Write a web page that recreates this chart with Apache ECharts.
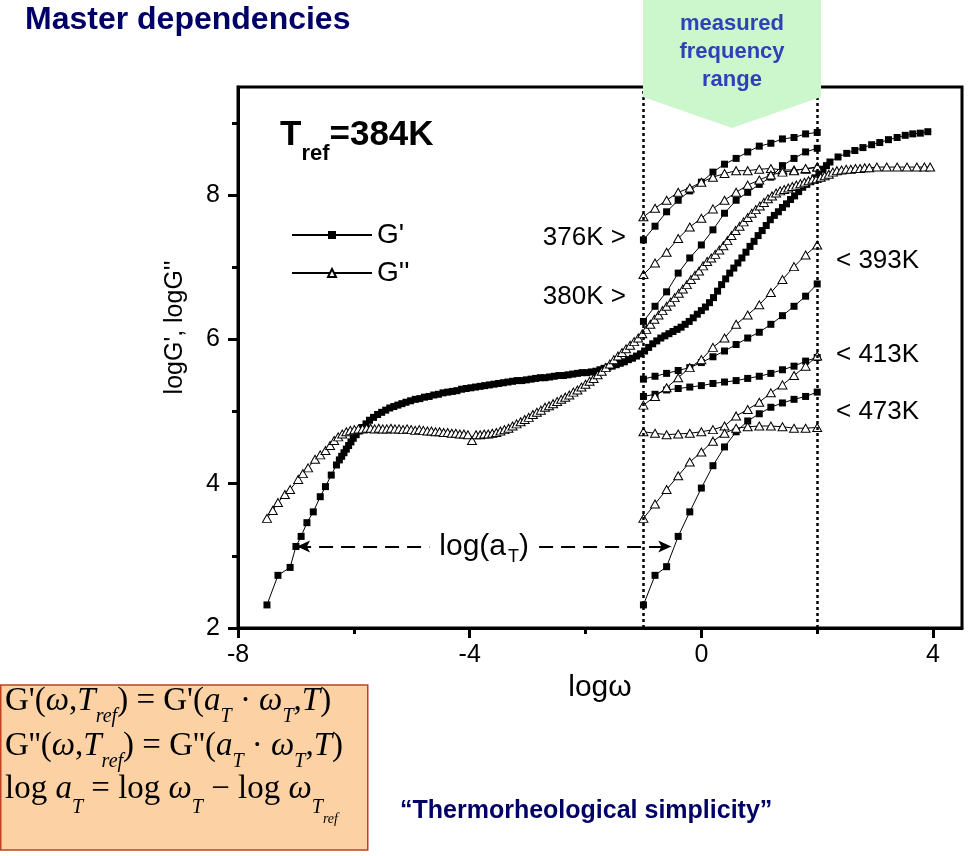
<!DOCTYPE html>
<html><head><meta charset="utf-8">
<script src="https://cdn.jsdelivr.net/npm/echarts@6/dist/echarts.min.js"></script>
<style>html,body{margin:0;padding:0;background:#fff}#chart{width:968px;height:856px}</style>
</head><body><div id="chart"></div>
<script>
// ---- master curve (reduced to T_ref = 384 K) ----
const masterLogW_Gp = [-7.50,-7.31,-7.10,-7.00,-6.91,-6.81,-6.70,-6.58,-6.49,-6.39,
 -6.30,-6.25,-6.21,-6.17,-6.13,-6.09,-6.05,-6.01,-5.96,-5.91,
 -5.85,-5.79,-5.73,-5.66,-5.59,-5.52,-5.45,-5.38,-5.31,-5.24,
 -5.17,-5.10,-5.02,-4.94,-4.86,-4.78,-4.70,-4.62,-4.54,-4.46,
 -4.38,-4.30,-4.22,-4.14,-4.06,-3.98,-3.90,-3.82,-3.74,-3.66,
 -3.58,-3.50,-3.42,-3.34,-3.26,-3.18,-3.10,-3.02,-2.94,-2.86,
 -2.78,-2.70,-2.62,-2.54,-2.46,-2.38,-2.30,-2.22,-2.14,-2.06,
 -1.98,-1.90,-1.82,-1.75,-1.68,-1.61,-1.54,-1.47,-1.40,-1.33,
 -1.26,-1.19,-1.12,-1.05,-0.98,-0.91,-0.84,-0.77,-0.70,-0.63,
 -0.56,-0.49,-0.42,-0.35,-0.28,-0.21,-0.14,-0.07,0.00,0.07,
 0.14,0.21,0.28,0.35,0.42,0.49,0.56,0.63,0.70,0.77,
 0.84,0.91,0.98,1.05,1.12,1.19,1.26,1.33,1.40,1.47,
 1.54,1.61,1.68,1.75,1.82,1.89,1.96,2.03,2.10,2.16,
 2.22,2.36,2.51,2.65,2.79,2.94,3.08,3.23,3.38,3.52,
 3.65,3.78,3.91];
const masterGp = [2.32,2.73,2.84,3.13,3.27,3.46,3.61,3.82,3.96,4.12,
 4.26,4.33,4.38,4.43,4.48,4.53,4.58,4.63,4.68,4.73,
 4.78,4.83,4.88,4.92,4.96,4.99,5.02,5.05,5.07,5.09,
 5.11,5.13,5.15,5.17,5.18,5.20,5.21,5.23,5.24,5.26,
 5.27,5.28,5.29,5.31,5.32,5.33,5.34,5.35,5.36,5.37,
 5.38,5.39,5.40,5.41,5.42,5.43,5.43,5.44,5.45,5.46,
 5.47,5.47,5.48,5.49,5.50,5.50,5.51,5.52,5.53,5.54,
 5.54,5.55,5.56,5.58,5.60,5.62,5.63,5.65,5.67,5.69,
 5.72,5.74,5.77,5.80,5.84,5.89,5.94,5.98,6.02,6.05,
 6.08,6.11,6.14,6.17,6.21,6.25,6.30,6.35,6.40,6.45,
 6.51,6.58,6.67,6.76,6.84,6.92,6.99,7.06,7.13,7.21,
 7.29,7.36,7.44,7.51,7.58,7.66,7.72,7.77,7.83,7.88,
 7.94,7.99,8.05,8.11,8.15,8.19,8.24,8.30,8.36,8.41,
 8.46,8.53,8.58,8.62,8.66,8.70,8.73,8.77,8.80,8.83,
 8.85,8.86,8.88];
const masterLogW_Gpp = [-7.50,-7.40,-7.31,-7.19,-7.10,-6.96,-6.88,-6.79,-6.67,-6.58,
 -6.49,-6.41,-6.34,-6.27,-6.20,-6.13,-6.06,-5.99,-5.92,-5.85,
 -5.78,-5.71,-5.64,-5.57,-5.50,-5.43,-5.36,-5.29,-5.22,-5.15,
 -5.08,-5.01,-4.94,-4.87,-4.80,-4.73,-4.66,-4.59,-4.52,-4.45,
 -4.38,-4.31,-4.24,-4.17,-4.10,-4.03,-3.96,-3.89,-3.82,-3.75,
 -3.68,-3.61,-3.54,-3.47,-3.40,-3.33,-3.26,-3.19,-3.12,-3.05,
 -2.98,-2.91,-2.84,-2.77,-2.70,-2.63,-2.56,-2.49,-2.42,-2.35,
 -2.28,-2.21,-2.14,-2.07,-2.00,-1.93,-1.86,-1.79,-1.72,-1.65,
 -1.58,-1.51,-1.44,-1.37,-1.30,-1.23,-1.16,-1.09,-1.02,-0.95,
 -0.88,-0.81,-0.74,-0.67,-0.60,-0.53,-0.46,-0.39,-0.32,-0.25,
 -0.18,-0.11,-0.04,0.03,0.10,0.17,0.24,0.31,0.38,0.45,
 0.52,0.59,0.66,0.73,0.80,0.87,0.94,1.01,1.08,1.15,
 1.22,1.29,1.36,1.43,1.50,1.57,1.64,1.71,1.78,1.85,
 1.92,1.99,2.06,2.13,2.20,2.27,2.34,2.42,2.50,2.58,
 2.66,2.74,2.82,2.90,3.03,3.20,3.38,3.55,3.72,3.85,
 3.95];
const masterGpp = [3.52,3.63,3.74,3.85,3.92,4.06,4.14,4.22,4.34,4.40,
 4.46,4.53,4.60,4.65,4.69,4.72,4.74,4.75,4.76,4.76,
 4.77,4.77,4.76,4.77,4.76,4.76,4.77,4.76,4.76,4.75,
 4.76,4.75,4.74,4.75,4.74,4.73,4.73,4.72,4.72,4.71,
 4.71,4.70,4.70,4.69,4.69,4.68,4.60,4.68,4.68,4.69,
 4.69,4.70,4.71,4.73,4.75,4.77,4.80,4.83,4.86,4.89,
 4.92,4.96,4.99,5.02,5.06,5.08,5.11,5.14,5.17,5.20,
 5.23,5.27,5.30,5.34,5.38,5.42,5.46,5.51,5.56,5.61,
 5.66,5.72,5.77,5.82,5.87,5.92,5.97,6.02,6.08,6.14,
 6.21,6.28,6.34,6.40,6.46,6.52,6.58,6.64,6.70,6.76,
 6.83,6.89,6.95,7.02,7.08,7.13,7.18,7.24,7.30,7.37,
 7.44,7.51,7.57,7.63,7.69,7.75,7.80,7.85,7.90,7.95,
 7.99,8.03,8.06,8.08,8.10,8.12,8.14,8.16,8.18,8.20,
 8.22,8.23,8.25,8.27,8.29,8.32,8.34,8.35,8.36,8.36,
 8.37,8.37,8.38,8.38,8.39,8.39,8.39,8.39,8.39,8.39,
 8.39];

// ---- measured frequency window (unshifted data at each temperature) ----
const measuredLogW = [-1.0,-0.8,-0.6,-0.4,-0.2,0.0,0.2,0.4,0.6,0.8,1.0,1.2,1.4,1.6,1.8,2.0];
const Gp_376K  = [7.38,7.57,7.77,7.93,8.06,8.18,8.32,8.43,8.51,8.60,8.68,8.72,8.78,8.80,8.85,8.87];
const Gpp_376K = [7.70,7.82,7.93,8.04,8.10,8.18,8.25,8.30,8.34,8.34,8.36,8.37,8.35,8.35,8.36,8.39];
const Gp_380K  = [6.25,6.46,6.66,6.92,7.13,7.31,7.52,7.75,7.93,8.04,8.15,8.25,8.41,8.51,8.60,8.65];
const Gpp_380K = [6.90,7.06,7.21,7.40,7.56,7.68,7.81,7.93,8.04,8.14,8.21,8.28,8.32,8.34,8.37,8.39];
const Gp_393K  = [5.45,5.49,5.53,5.57,5.61,5.68,5.76,5.84,5.93,6.02,6.10,6.21,6.33,6.46,6.60,6.77];
const Gpp_393K = [5.09,5.21,5.33,5.47,5.61,5.72,5.89,6.02,6.21,6.34,6.48,6.65,6.83,7.01,7.17,7.31];
const Gp_413K  = [5.21,5.24,5.30,5.32,5.34,5.36,5.39,5.41,5.43,5.46,5.49,5.53,5.58,5.63,5.70,5.75];
const Gpp_413K = [4.72,4.70,4.68,4.69,4.70,4.72,4.75,4.80,4.94,5.03,5.13,5.26,5.37,5.50,5.63,5.77];
const Gp_473K  = [2.32,2.73,2.85,3.27,3.61,3.94,4.25,4.51,4.72,4.87,4.97,5.06,5.12,5.17,5.21,5.27];
const Gpp_473K = [3.52,3.72,3.92,4.11,4.30,4.44,4.59,4.70,4.77,4.79,4.80,4.80,4.79,4.77,4.77,4.78];

// ---- window limits, shift arrow ----
const windowLimits = [-1, 2];
const shiftArrow = {from: -6.98, to: -0.52, level: 3.13};

const xTicks = [-8, -4, 0, 4];
const yTicks = [2, 4, 6, 8];

const SANS = "'Liberation Sans', Arial, Helvetica, sans-serif";
const SERIF = "'Liberation Serif', 'Times New Roman', serif";

function pairs(xs, ys) { return xs.map((x, i) => [x, ys[i]]); }

const gpStyle = {
  type: 'line', name: "G'", symbol: 'rect', symbolSize: 7,
  itemStyle: {color: '#000'}, lineStyle: {color: '#000', width: 1},
  emphasis: {disabled: true}, z: 3
};
const gppStyle = {
  type: 'line', name: "G''", symbol: 'triangle', symbolSize: [9, 8],
  itemStyle: {color: '#fff', borderColor: '#000', borderWidth: 1}, lineStyle: {color: '#000', width: 1},
  emphasis: {disabled: true}, z: 4
};

const series = [
  Object.assign({}, gpStyle, {data: pairs(masterLogW_Gp, masterGp),
    markLine: {
      silent: true, symbol: 'none', animation: false,
      lineStyle: {color: '#000', width: 2.5, type: [3, 3]},
      label: {show: false},
      data: windowLimits.map(x => [{coord: [x, 2]}, {coord: [x, 9.5]}])
    }}),
  Object.assign({}, gppStyle, {data: pairs(masterLogW_Gpp, masterGpp),
    markLine: {
      silent: true, animation: false,
      symbol: ['arrow', 'arrow'], symbolSize: [9, 13],
      lineStyle: {color: '#000', width: 2, type: [14, 8]},
      label: {
        show: true, position: 'middle', distance: 0, verticalAlign: 'middle',
        formatter: 'log(a{s|T})', fontFamily: SANS, fontSize: 30, color: '#000',
        backgroundColor: '#fff', padding: [0, 10],
        rich: {s: {fontFamily: SANS, fontSize: 18, color: '#000', padding: [22, 0, 0, 2]}}
      },
      data: [[{coord: [shiftArrow.from, shiftArrow.level]}, {coord: [shiftArrow.to, shiftArrow.level]}]]
    }}),
];
const sets = [[Gp_376K, Gpp_376K], [Gp_380K, Gpp_380K], [Gp_393K, Gpp_393K], [Gp_413K, Gpp_413K], [Gp_473K, Gpp_473K]];
sets.forEach(([gp, gpp]) => {
  series.push(Object.assign({}, gpStyle, {data: pairs(measuredLogW, gp)}));
  series.push(Object.assign({}, gppStyle, {data: pairs(measuredLogW, gpp)}));
});

const tempLabels = [
  {text: '376K >', x: 626, y: 238, align: 'right'},
  {text: '380K >', x: 626, y: 297, align: 'right'},
  {text: '< 393K', x: 836, y: 261, align: 'left'},
  {text: '< 413K', x: 836, y: 355, align: 'left'},
  {text: '< 473K', x: 836, y: 412, align: 'left'}
];

const fRich = {
  n: {fontFamily: SERIF, fontSize: 33, color: '#000'},
  i: {fontFamily: SERIF, fontSize: 33, fontStyle: 'italic', color: '#000'},
  s: {fontFamily: SERIF, fontSize: 20, fontStyle: 'italic', color: '#000', padding: [32, 0, 0, 0]},
  s3: {fontFamily: SERIF, fontSize: 20, fontStyle: 'italic', color: '#000', padding: [38, 0, 0, 0]},
  ss: {fontFamily: SERIF, fontSize: 14, fontStyle: 'italic', color: '#000', padding: [60, 0, 0, 0]}
};

const graphic = [
  {type: 'text', left: 25, top: 4, z: 100,
   style: {text: 'Master dependencies', font: "bold 32px " + SANS, fill: '#000066'}},
  {type: 'polygon', z: 100,
   shape: {points: [[643, 0], [821, 0], [821, 97], [732, 128], [643, 97]]},
   style: {fill: '#ccf6cc'}},
  {type: 'text', z: 101,
   style: {text: 'measured\nfrequency\nrange', x: 732, y: 52, align: 'center', verticalAlign: 'middle',
           font: "bold 22px " + SANS, lineHeight: 28, fill: '#3040b8'}},
  {type: 'text', z: 100,
   style: {text: '{b|T}{s|ref}{b|=384K}', x: 280, y: 135, verticalAlign: 'middle',
           rich: {b: {fontFamily: SANS, fontWeight: 'bold', fontSize: 35, color: '#000'},
                  s: {fontFamily: SANS, fontWeight: 'bold', fontSize: 22, color: '#000', padding: [38, 0, 0, 0]}}}},
  {type: 'rect', z: 100, shape: {x: 0.75, y: 685, width: 367, height: 165},
   style: {fill: '#fcd2a4', stroke: '#c04020', lineWidth: 1.5}},
  {type: 'text', z: 101,
   style: {x: 5, y: 701, verticalAlign: 'middle', rich: fRich,
           text: "{n|G'(}{i|ω}{n|,}{i|T}{s|ref}{n|) = G'(}{i|a}{s|T}{n| · }{i|ω}{s|T}{n|,}{i|T}{n|)}"}},
  {type: 'text', z: 101,
   style: {x: 5, y: 746, verticalAlign: 'middle', rich: fRich,
           text: "{n|G''(}{i|ω}{n|,}{i|T}{s|ref}{n|) = G''(}{i|a}{s|T}{n| · }{i|ω}{s|T}{n|,}{i|T}{n|)}"}},
  {type: 'text', z: 101,
   style: {x: 5, y: 789, verticalAlign: 'middle', rich: fRich,
           text: "{n|log }{i|a}{s3|T}{n| = log }{i|ω}{s3|T}{n| − log }{i|ω}{s3|T}{ss|ref}"}},
  {type: 'text', z: 100,
   style: {text: '\u201CThermorheological simplicity\u201D', x: 400, y: 811, verticalAlign: 'middle',
           font: "bold 25px " + SANS, fill: '#000066'}}
].concat(tempLabels.map(t => ({type: 'text', z: 100,
   style: {text: t.text, x: t.x, y: t.y, align: t.align, verticalAlign: 'middle', font: "26px " + SANS, fill: '#000'}})));

const option = {
  animation: false,
  backgroundColor: '#fff',
  grid: {left: 238, right: 6, top: 87, bottom: 228, show: true, borderColor: '#000', borderWidth: 3, backgroundColor: 'transparent'},
  legend: {
    data: ["G'", "G''"], orient: 'vertical', left: 291, top: 221, padding: 0,
    itemWidth: 80, itemHeight: 10, itemGap: 10, selectedMode: false,
    textStyle: {fontFamily: SANS, fontSize: 28, color: '#000'}
  },
  xAxis: {
    type: 'value', min: -8, max: 4.5, interval: 4,
    name: 'logω', nameLocation: 'middle', nameGap: 42,
    nameTextStyle: {fontFamily: SANS, fontSize: 30, color: '#000'},
    axisLine: {show: true, onZero: false, lineStyle: {color: '#000', width: 3}},
    axisTick: {show: true, length: 10, customValues: xTicks, lineStyle: {color: '#000', width: 3}},
    minorTick: {show: true, splitNumber: 2, length: 6, lineStyle: {color: '#000', width: 3}},
    axisLabel: {customValues: xTicks, fontFamily: SANS, fontSize: 25, color: '#000', margin: 15},
    splitLine: {show: false}, minorSplitLine: {show: false}
  },
  yAxis: {
    type: 'value', min: 2, max: 9.5, interval: 2,
    name: "logG', logG''", nameLocation: 'middle', nameGap: 50,
    nameTextStyle: {fontFamily: SANS, fontSize: 25, color: '#000', padding: [0, 0, 0, 60]},
    axisLine: {show: true, onZero: false, lineStyle: {color: '#000', width: 3}},
    axisTick: {show: true, length: 10, customValues: yTicks, lineStyle: {color: '#000', width: 3}},
    minorTick: {show: true, splitNumber: 2, length: 6, lineStyle: {color: '#000', width: 3}},
    axisLabel: {customValues: yTicks, fontFamily: SANS, fontSize: 25, color: '#000', margin: 18},
    splitLine: {show: false}, minorSplitLine: {show: false}
  },
  series: series,
  graphic: graphic
};

const chart = echarts.init(document.getElementById('chart'), null, {renderer: 'canvas'});
chart.setOption(option);
</script>
</body></html>
